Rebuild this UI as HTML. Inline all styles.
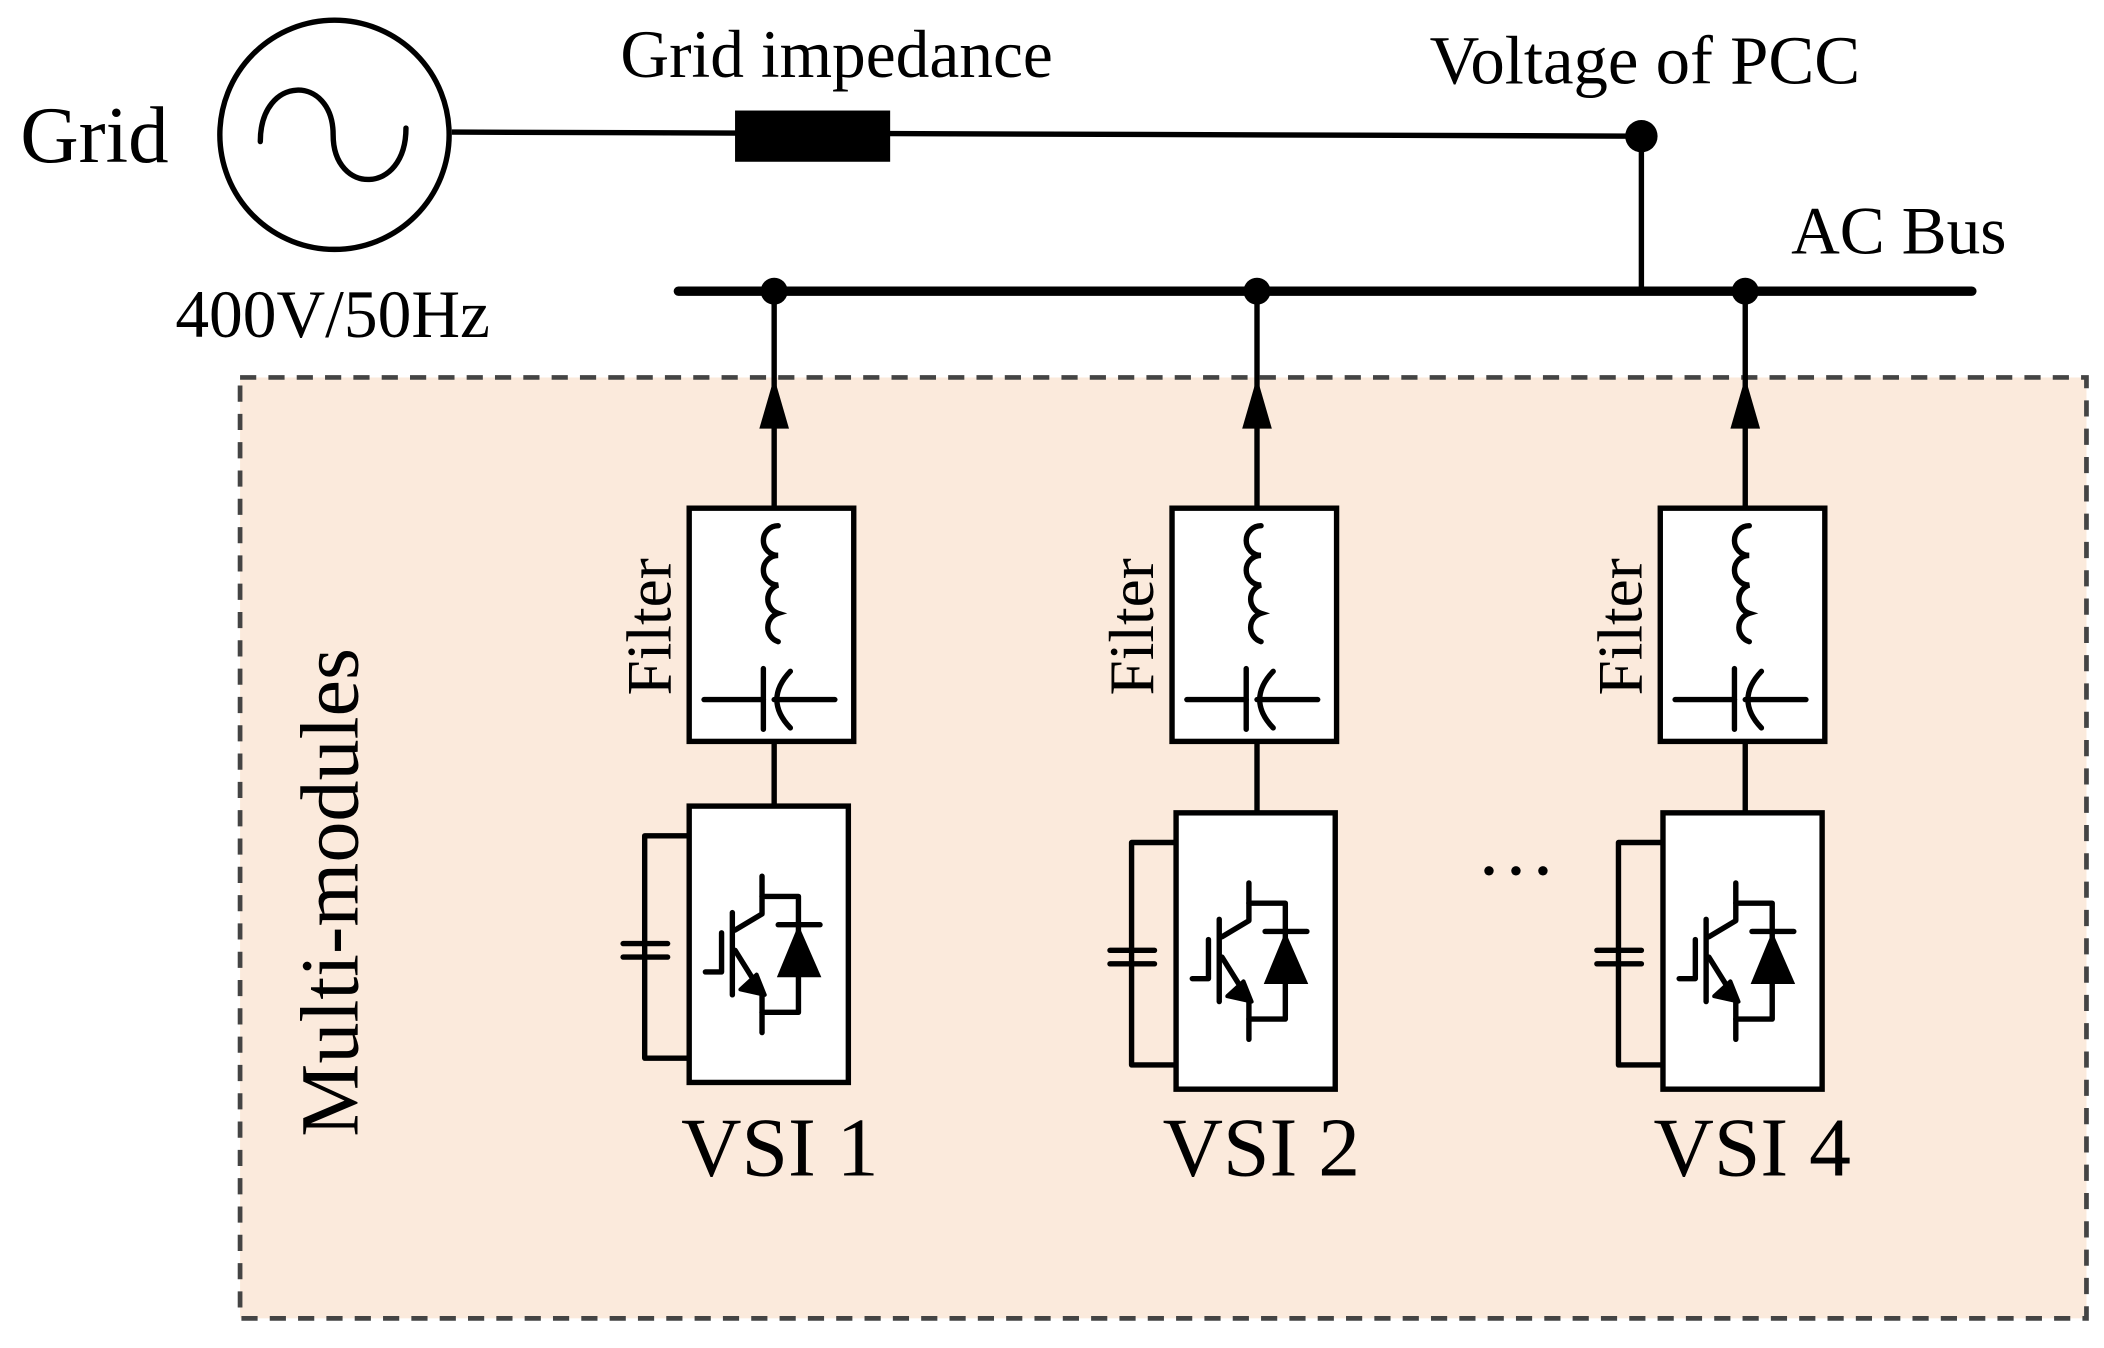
<!DOCTYPE html>
<html><head><meta charset="utf-8"><style>
html,body{margin:0;padding:0;background:#fff;}
svg{display:block;}
text{font-family:"Liberation Serif",serif;fill:#000;}
</style></head><body>
<svg width="2104" height="1348" viewBox="0 0 1560 1000" preserveAspectRatio="none" xmlns="http://www.w3.org/2000/svg">
<defs>
<g id="filt">
<rect x="511" y="377" width="122" height="173" fill="#fff" stroke="#000" stroke-width="4"/>
<path d="M577,390 A11,11 0 0 0 577,412 A11,11 0 0 0 577,434 A11,11 0 0 0 577,455 A11,11 0 0 0 577,476" fill="none" stroke="#000" stroke-width="4" stroke-linecap="round"/>
<line x1="522" y1="519" x2="566" y2="519" stroke="#000" stroke-width="4" stroke-linecap="round"/>
<line x1="566" y1="496" x2="566" y2="541" stroke="#000" stroke-width="4" stroke-linecap="round"/>
<path d="M586,498 Q566,519 586,540" fill="none" stroke="#000" stroke-width="4" stroke-linecap="round"/>
<line x1="574" y1="519" x2="619" y2="519" stroke="#000" stroke-width="4" stroke-linecap="round"/>
<text transform="translate(497,465) rotate(-90)" font-size="47" text-anchor="middle">Filter</text>
</g>
<g id="vsi">
<polyline points="511,620 478,620 478,785 511,785" fill="none" stroke="#000" stroke-width="4" stroke-linejoin="round"/>
<line x1="462" y1="700" x2="495" y2="700" stroke="#000" stroke-width="4" stroke-linecap="round"/>
<line x1="462" y1="710" x2="495" y2="710" stroke="#000" stroke-width="4" stroke-linecap="round"/>
<rect x="511" y="598" width="118" height="205" fill="#fff" stroke="#000" stroke-width="4"/>
<g stroke="#000" stroke-width="4" fill="none" stroke-linecap="round" stroke-linejoin="round">
<line x1="543" y1="677" x2="543" y2="738"/>
<polyline points="523,721 535,721 535,692"/>
<polyline points="545,690 565,678 565,650"/>
<polyline points="565,665 592,665 592,751 565,751"/>
<line x1="565" y1="737" x2="565" y2="766"/>
<line x1="545" y1="705" x2="565" y2="737"/>
<line x1="577" y1="686" x2="608" y2="686"/>
</g>
<polygon points="592,686 576,725 609,725" fill="#000"/>
<polygon points="567,738 549,734 561,723" fill="#000" stroke="#000" stroke-width="3" stroke-linejoin="round"/>
</g>
</defs>
<rect x="178" y="280" width="1369" height="698" fill="#fbeadc" stroke="#444" stroke-width="3.5" stroke-dasharray="12,9"/>
<text x="15" y="120" font-size="60">Grid</text>
<circle cx="248" cy="100" r="85" fill="none" stroke="#000" stroke-width="4"/>
<path d="M193,105 C193,55 247,55 247,100 C247,145 301,145 301,95" fill="none" stroke="#000" stroke-width="4" stroke-linecap="round"/>
<line x1="335" y1="98" x2="1217" y2="101" stroke="#000" stroke-width="4"/>
<rect x="545" y="82" width="115" height="38" fill="#000"/>
<text x="460" y="57" font-size="50">Grid impedance</text>
<text x="1060" y="62" font-size="51">Voltage of PCC</text>
<circle cx="1217" cy="101" r="12" fill="#000"/>
<line x1="1217" y1="101" x2="1217" y2="216" stroke="#000" stroke-width="4"/>
<line x1="503" y1="216" x2="1462" y2="216" stroke="#000" stroke-width="7" stroke-linecap="round"/>
<text x="1328" y="188" font-size="50">AC Bus</text>
<text x="130" y="250" font-size="50">400V/50Hz</text>
<text transform="translate(265,662) rotate(-90)" font-size="61" text-anchor="middle">Multi-modules</text>
<g id="m1">
<circle cx="574" cy="216" r="10" fill="#000"/>
<line x1="574" y1="216" x2="574" y2="598" stroke="#000" stroke-width="4"/>
<polygon points="574,280 563,318 585,318" fill="#000"/>
</g>
<use href="#filt"/>
<use href="#vsi"/>
<g transform="translate(358,0)">
<circle cx="574" cy="216" r="10" fill="#000"/>
<line x1="574" y1="216" x2="574" y2="603" stroke="#000" stroke-width="4"/>
<polygon points="574,280 563,318 585,318" fill="#000"/>
<use href="#filt"/>
</g>
<g transform="translate(361,5)"><use href="#vsi"/></g>
<g transform="translate(720,0)">
<circle cx="574" cy="216" r="10" fill="#000"/>
<line x1="574" y1="216" x2="574" y2="603" stroke="#000" stroke-width="4"/>
<polygon points="574,280 563,318 585,318" fill="#000"/>
<use href="#filt"/>
</g>
<g transform="translate(722,5)"><use href="#vsi"/></g>
<text x="505" y="872" font-size="62">VSI 1</text>
<text x="862" y="872" font-size="62">VSI 2</text>
<text x="1226" y="872" font-size="62">VSI 4</text>
<g fill="#000"><circle cx="1104" cy="646" r="3.5"/><circle cx="1124" cy="646" r="3.5"/><circle cx="1144" cy="646" r="3.5"/></g>
</svg>
</body></html>
